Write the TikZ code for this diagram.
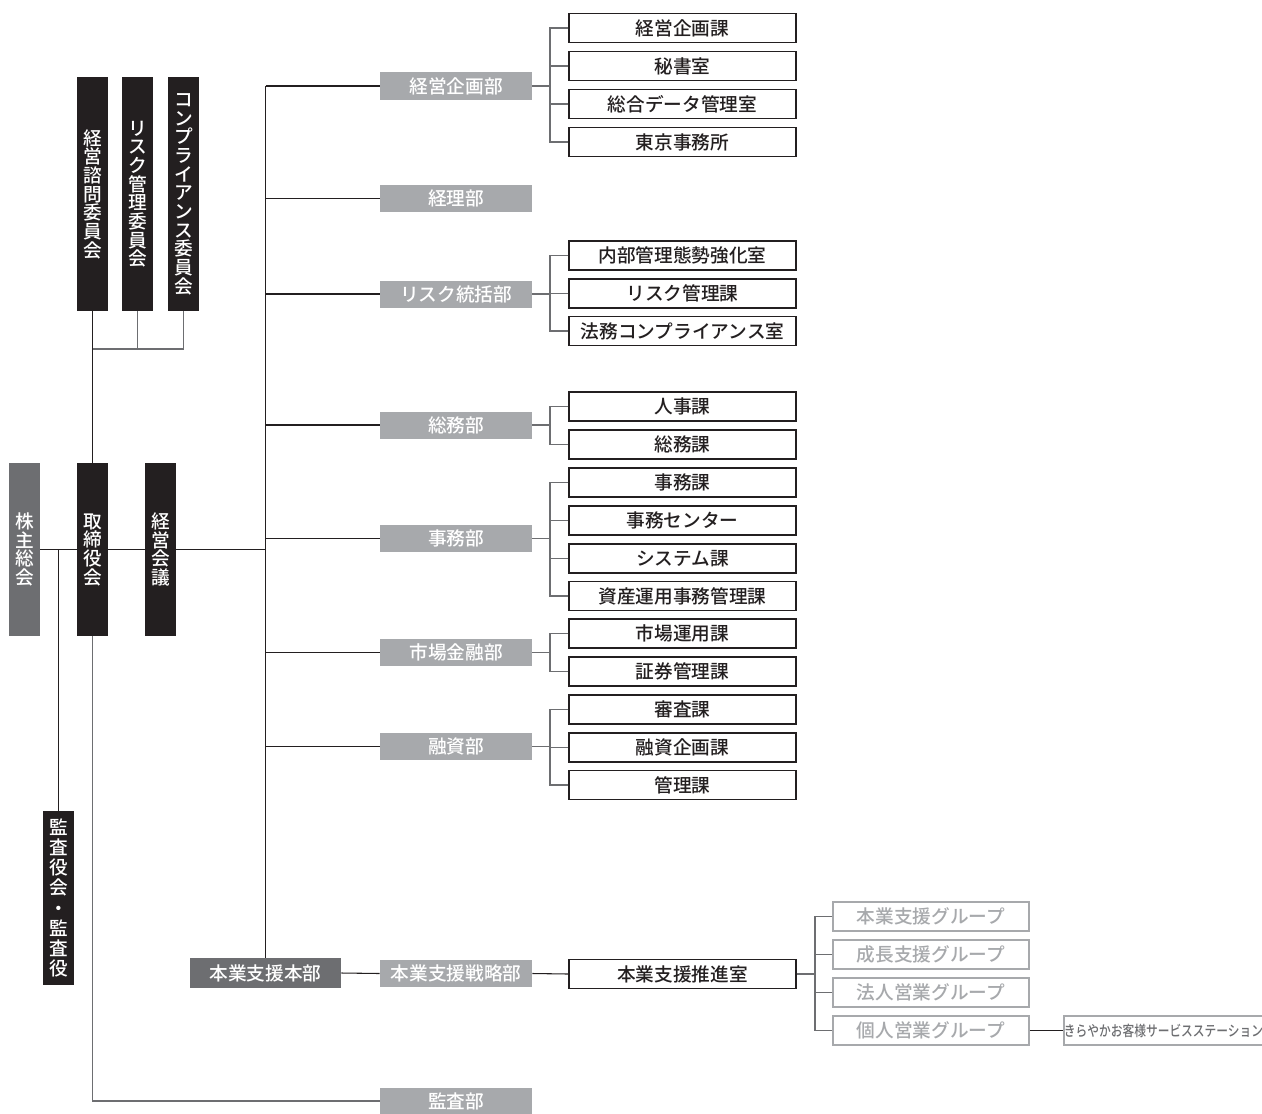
\documentclass[tikz,border=0pt]{standalone}
\usepackage{fontspec}
\setmainfont{Noto Sans CJK JP Medium}
\definecolor{bugray}{HTML}{A7A9AC}
\definecolor{dgray}{HTML}{6D6E71}
\definecolor{blk}{HTML}{231F20}
\begin{document}
\begin{tikzpicture}[x=0.75pt,y=-0.75pt,
  every node/.style={inner sep=0pt,font=\fontsize{14}{14}\selectfont},
  vbox/.style={fill=blk,text=white,minimum width=23.25pt,align=center},
  bubox/.style={fill=bugray,text=white,minimum width=114pt,minimum height=20.25pt},
  kabox/.style={draw=blk,line width=1.1pt,fill=white,text=blk,minimum width=170.25pt,minimum height=22pt},
  grbox/.style={draw=bugray,line width=1.1pt,fill=white,text=bugray,minimum width=147pt,minimum height=21.75pt},
  conn/.style={draw=blk,line width=0.8pt},
  gconn/.style={draw=dgray,line width=0.8pt}]
\useasboundingbox (0,0) rectangle (1262,1113);
% left column
\node[vbox,fill=dgray,minimum height=129.75pt] (kabu) at (24.5,549.5) {株\\主\\総\\会};
\node[vbox,minimum height=129.75pt] (tori) at (92.5,549.5) {取\\締\\役\\会};
\node[vbox,minimum height=129.75pt] (keiei) at (160.5,549.5) {経\\営\\会\\議};
\node[vbox,minimum height=175.5pt] (c1) at (92.5,194) {経\\営\\諮\\問\\委\\員\\会};
\node[vbox,minimum height=175.5pt] (c2) at (137.5,194) {リ\\ス\\ク\\管\\理\\委\\員\\会};
\node[vbox,minimum height=175.5pt] (c3) at (183.5,194) {コ\\ン\\プ\\ラ\\イ\\ア\\ン\\ス\\委\\員\\会};
\node[vbox,minimum height=130.5pt,font=\fontsize{14}{15.2}\selectfont] (kansa) at (58.5,898) {監\\査\\役\\会\\・\\監\\査\\役};
\coordinate (cj) at (92.5,349);
\draw[conn] (c1.south) -- (tori.north);
\draw[gconn] (c2.south) |- (cj);
\draw[gconn] (c3.south) |- (cj);
\draw[conn] (kabu.east) -- (tori.west);
\draw[conn] (tori.east) -- (keiei.west);
\draw[conn] (kansa.north) -- (kansa.north |- kabu.east);
% honbu and trunk
\node[fill=dgray,text=white,minimum width=113.25pt,minimum height=22.5pt] (honbu) at (265.5,973) {本業支援本部};
\coordinate (trtop) at (265.5,86);
\draw[conn] (keiei.east) -- (keiei.east -| honbu.north);
\draw[conn] (trtop) -- (honbu.north);
% departments
\node[bubox] (b1) at (456,86) {経営企画部};
\node[bubox] (b2) at (456,198.5) {経理部};
\node[bubox] (b3) at (456,294) {リスク統括部};
\node[bubox] (b4) at (456,425) {総務部};
\node[bubox] (b5) at (456,538.5) {事務部};
\node[bubox] (b6) at (456,652.5) {市場金融部};
\node[bubox] (b7) at (456,746.5) {融資部};
\node[bubox] (b8) at (456,973.5) {本業支援戦略部};
\node[bubox] (b9) at (456,1101) {監査部};
\foreach \b in {b1,b2,b3,b4,b5,b6,b7} {\draw[conn] (\b.west -| honbu.north) -- (\b.west);}
\draw[conn] (honbu.east) -- (b8.west);
\draw[gconn] (tori.south) |- (b9.west);
% sections
\coordinate (jx) at (550,0);
\node[kabox] (k11) at (682.5,28) {経営企画課};
\node[kabox] (k12) at (682.5,66) {秘書室};
\node[kabox] (k13) at (682.5,104) {総合データ管理室};
\node[kabox] (k14) at (682.5,142) {東京事務所};
\node[kabox] (k31) at (682.5,255.5) {内部管理態勢強化室};
\node[kabox] (k32) at (682.5,293.5) {リスク管理課};
\node[kabox] (k33) at (682.5,331) {法務コンプライアンス室};
\node[kabox] (k41) at (682.5,406.5) {人事課};
\node[kabox] (k42) at (682.5,444.5) {総務課};
\node[kabox] (k51) at (682.5,482.5) {事務課};
\node[kabox] (k52) at (682.5,520.5) {事務センター};
\node[kabox] (k53) at (682.5,558.5) {システム課};
\node[kabox] (k54) at (682.5,596) {資産運用事務管理課};
\node[kabox] (k61) at (682.5,633.5) {市場運用課};
\node[kabox] (k62) at (682.5,671.5) {証券管理課};
\node[kabox] (k71) at (682.5,709.5) {審査課};
\node[kabox] (k72) at (682.5,747.5) {融資企画課};
\node[kabox] (k73) at (682.5,785) {管理課};
\node[kabox] (k81) at (682.5,974) {本業支援推進室};
\foreach \b/\ks in {b1/{k11,k12,k13,k14},b3/{k31,k32,k33},b4/{k41,k42},b5/{k51,k52,k53,k54},b6/{k61,k62},b7/{k71,k72,k73}} {
  \draw[gconn] (\b.east) -- (\b.east -| jx);
  \foreach \k in \ks {\draw[gconn] (\k.west) -| (\b.east -| jx);}
}
\draw[conn] (b8.east) -- (k81.west);
% groups
\coordinate (gx) at (815,0);
\node[grbox] (g1) at (931,916.5) {本業支援グループ};
\node[grbox] (g2) at (931,954.5) {成長支援グループ};
\node[grbox] (g3) at (931,992.5) {法人営業グループ};
\node[grbox] (g4) at (931,1030.5) {個人営業グループ};
\draw[gconn] (k81.east) -- (k81.east -| gx);
\foreach \g in {g1,g2,g3,g4} {\draw[gconn] (\g.west) -| (k81.east -| gx);}
\node[draw=bugray,line width=1.1pt,fill=white,text=dgray,minimum width=144.75pt,minimum height=21.75pt] (st) at (1163.5,1030.5) {\fontsize{11}{11}\selectfont\scalebox{0.8}[1]{きらやかお客様サービスステーション}};
\draw[conn] (g4.east) -- (st.west);
\end{tikzpicture}
\end{document}
